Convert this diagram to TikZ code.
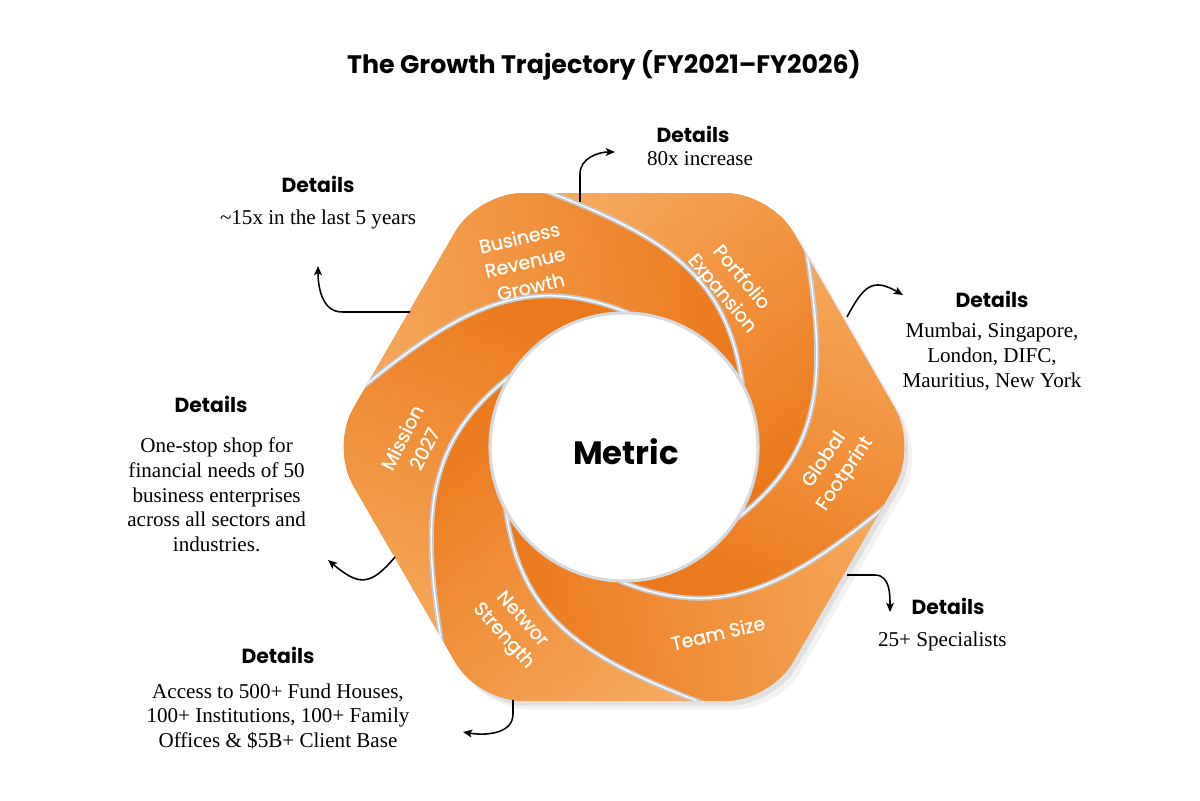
\documentclass[tikz,border=0pt]{standalone}
\usepackage{fontspec}
\setmainfont{Liberation Serif}
\newfontfamily\geofont{Poppins}
\newfontfamily\geomedium{Poppins}[FakeBold=0.7]
\usetikzlibrary{positioning,calc,arrows.meta}
\definecolor{OrangeDark}{RGB}{236,120,26}
\definecolor{OrangeLight}{RGB}{247,176,102}
\definecolor{FoldGray}{RGB}{196,201,207}
\tikzset{%
  heading/.style={%
    font=\geofont\bfseries\fontsize{14.5}{17}\selectfont, inner sep=0pt
  },
  info/.style={%
    font=\fontsize{15}{17.5}\selectfont, align=center, inner sep=0pt
  },
  blade label/.style={%
    text=white, font=\geomedium\fontsize{13.5}{17.8}\selectfont,
    align=center, inner sep=0pt
  },
  arrow/.style={line width=1.1pt,-{Stealth[length=6.5pt,width=5.5pt,inset=1.5pt]}},
  fold/.style={draw=FoldGray, line width=3.6pt},
  hexagon/.style={%
    rounded corners=1.1cm,
    insert path={(30:254) -- (60:293) -- (120:293) -- (180:293) -- (240:293) -- (300:293) -- (0:293) -- cycle}
  },
}

\begin{document}
\begin{tikzpicture}[x=0.025cm, y=0.025cm]
    \useasboundingbox[fill=white] (0,0) rectangle (1200,800);

    \node (Title)[font=\geofont\bfseries\fontsize{18}{22}\selectfont] at (604,735) {The Growth Trajectory (FY2021–FY2026)};

    \begin{scope}[shift={(624,353)}]
        % soft shadow
        \fill[black, opacity=.05, shift={(8,-9)}, hexagon];
        \fill[black, opacity=.07, shift={(4,-5)}, hexagon];
        \begin{scope}
            \clip[hexagon];
            \fill[OrangeDark] (-300,-300) rectangle (300,300);
            % blades
            \foreach \a in {106,46,-14,-74,-134,-194} {
                \pgfmathsetmacro\b{\a+60}
                \pgfmathsetmacro\aT{\a-78}
                \pgfmathsetmacro\bT{\a-18}
                \pgfmathsetmacro\aOut{\a-127}
                \pgfmathsetmacro\aIn{\a-8}
                \pgfmathsetmacro\bOut{\a+52}
                \pgfmathsetmacro\bIn{\a-67}
                \pgfmathsetmacro\aExt{\a+53}
                \pgfmathsetmacro\bExt{\a+113}
                \pgfmathsetmacro\shadeAngle{\a-8}
                \shade[left color=OrangeLight, right color=OrangeDark, shading angle=\shadeAngle]
                    ($(\a:264)+(\aExt:70)$) -- (\a:264)
                    to[out=\aOut, in=\aIn, out looseness=1.2] (\aT:134)
                    arc[start angle=\aT, end angle=\bT, radius=134]
                    to[out=\bOut, in=\bIn, in looseness=1.2] (\b:264)
                    -- ($(\b:264)+(\bExt:70)$) -- (\b:350) -- (\a:350) -- cycle;
            }
            % folds between blades
            \foreach \a in {106,46,-14,-74,-134,-194} {
                \pgfmathsetmacro\aT{\a-78}
                \pgfmathsetmacro\aOut{\a-127}
                \pgfmathsetmacro\aIn{\a-8}
                \pgfmathsetmacro\aExt{\a+53}
                \draw[fold] ($(\a:264)+(\aExt:70)$) -- (\a:264)
                    to[out=\aOut, in=\aIn, out looseness=1.2] (\aT:134);
                \draw[white, line width=1pt] ($(\a:264)+(\aExt:70)$) -- (\a:264)
                    to[out=\aOut, in=\aIn, out looseness=1.2] (\aT:134);
            }
        \end{scope}
        \fill[white] (0,0) circle[radius=134];
        \draw[FoldGray!70, line width=2.2pt] (0,0) circle[radius=134];
        \node (Metric)[font=\geofont\bfseries\fontsize{23}{28}\selectfont] at (2,-5) {Metric};
    \end{scope}

    \node (RevenueGrowth)[blade label, rotate=13] at (525,538) {Business\\Revenue\\Growth};
    \node (Portfolio)[blade label, rotate=-50] at (731,514) {Portfolio\\Expansion};
    \node (Footprint)[blade label, rotate=56] at (835,333) {Global\\Footprint};
    \node (TeamSize)[blade label, rotate=13] at (718,167) {Team Size};
    \node (Network)[blade label, rotate=-48] at (512,172) {Networ\\Strength};
    \node (Mission)[blade label, rotate=63] at (413,357) {Mission\\2027};

    \node (TopDetails)[heading] at (693,666) {Details};
    \node (TopInfo)[info, below=6pt of TopDetails, xshift=5pt] {80x increase};
    \node (UpperLeftDetails)[heading] at (318,616) {Details};
    \node (UpperLeftInfo)[info, below=12pt of UpperLeftDetails] {\textasciitilde15x in the last 5 years};
    \node (RightDetails)[heading] at (992,501) {Details};
    \node (RightInfo)[info, below=11pt of RightDetails] {Mumbai, Singapore,\\London, DIFC,\\Mauritius, New York};
    \node (LeftDetails)[heading] at (211,396) {Details};
    \node (LeftInfo)[info, below=18pt of LeftDetails, xshift=4pt] {One-stop shop for\\financial needs of 50\\business enterprises\\across all sectors and\\industries.};
    \node (LowerLeftDetails)[heading] at (278,145) {Details};
    \node (LowerLeftInfo)[info, below=14pt of LowerLeftDetails] {Access to 500+ Fund Houses,\\100+ Institutions, 100+ Family\\Offices \& \$5B+ Client Base};
    \node (LowerRightDetails)[heading] at (948,194) {Details};
    \node (LowerRightInfo)[info, below=12pt of LowerRightDetails, xshift=-4pt] {25+ Specialists};

    \coordinate (TopStart) at (580,598);
    \coordinate (TopEnd) at (615,648);
    \coordinate (UpperLeftStart) at (410,488);
    \coordinate (UpperLeftEnd) at (318,534);
    \coordinate (RightStart) at (847,483);
    \coordinate (RightEnd) at (903,505);
    \coordinate (LowerRightStart) at (847,225);
    \coordinate (LowerRightEnd) at (890,188);
    \coordinate (LeftStart) at (395,243);
    \coordinate (LeftEnd) at (328,240);
    \coordinate (BottomStart) at (513,100);
    \coordinate (BottomEnd) at (463,68);

    \draw[arrow] (TopStart) -- ++(0,28) to[out=90,in=180] (TopEnd);
    \draw[arrow] (UpperLeftStart) -- ++(-68,0) to[out=180,in=-90] (UpperLeftEnd);
    \draw[arrow] (RightStart) to[out=62,in=150,looseness=1.5] (RightEnd);
    \draw[arrow] (LowerRightStart) -- ++(28,0) to[out=0,in=90] (LowerRightEnd);
    \draw[arrow] (LeftStart) to[out=-130,in=-40,looseness=1.5] (LeftEnd);
    \draw[arrow] (BottomStart) -- ++(0,-14) to[out=-90,in=-10] (BottomEnd);
\end{tikzpicture}
\end{document}
